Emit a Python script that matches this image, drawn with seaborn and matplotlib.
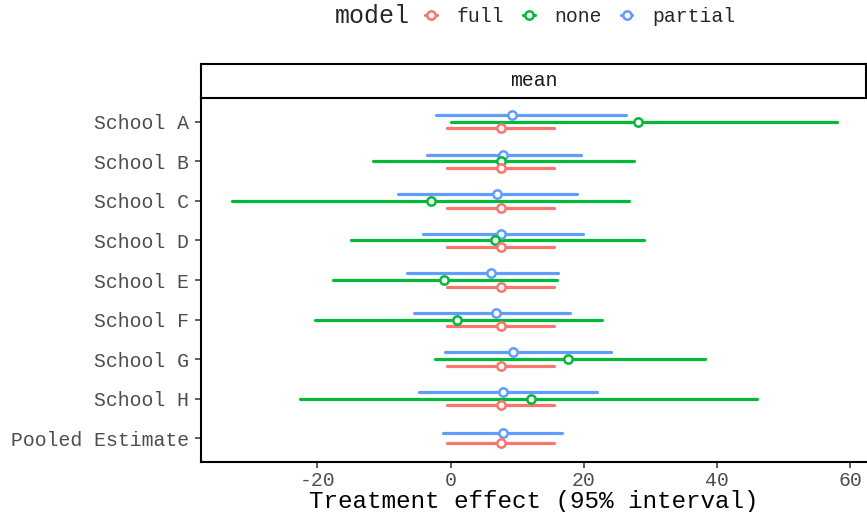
"""
Forest plot of treatment effects for the eight schools, three pooling models.
"""

import matplotlib
matplotlib.use("Agg")
import matplotlib.pyplot as plt
from matplotlib.lines import Line2D
import pandas as pd
import seaborn as sns

schools = ["School A", "School B", "School C", "School D", "School E",
           "School F", "School G", "School H", "Pooled Estimate"]
models = ["full", "none", "partial"]
colors = {"full": "#F8766D", "none": "#00BA38", "partial": "#619CFF"}
x_ticks = [-20, 0, 20, 40, 60]

# estimates and 95% interval ends (one value per school)
full_lo = [-0.5, -0.5, -0.5, -0.5, -0.5, -0.5, -0.5, -0.5, -0.5]
full_est = [7.6, 7.6, 7.6, 7.6, 7.6, 7.6, 7.6, 7.6, 7.6]
full_hi = [15.6, 15.6, 15.6, 15.6, 15.6, 15.6, 15.6, 15.6, 15.6]

none_lo = [0.0, -11.6, -32.9, -14.9, -17.6, -20.3, -2.4, -22.7]
none_est = [28.1, 7.6, -3.0, 6.7, -1.0, 0.9, 17.6, 12.0]
none_hi = [58.0, 27.5, 26.8, 29.1, 16.0, 22.7, 38.2, 46.0]

partial_lo = [-2.2, -3.6, -7.9, -4.1, -6.6, -5.5, -0.8, -4.8, -1.1]
partial_est = [9.2, 7.8, 6.9, 7.6, 6.1, 6.8, 9.3, 7.9, 7.9]
partial_hi = [26.3, 19.6, 19.0, 19.9, 16.2, 17.9, 24.1, 22.0, 16.8]


def long_rows(model, lo, est, hi):
    rows = []
    for school, a, b, c in zip(schools, lo, est, hi):
        for v in (a, b, c):
            rows.append({"school": school, "model": model, "value": v})
    return rows


df = pd.DataFrame(
    long_rows("full", full_lo, full_est, full_hi)
    + long_rows("none", none_lo, none_est, none_hi)
    + long_rows("partial", partial_lo, partial_est, partial_hi)
)


def interval(v):
    # each group holds (lo, est, hi): the range is the interval itself
    return v.min(), v.max()


sns.set_style("white")
plt.rcParams["font.family"] = ["Liberation Mono", "DejaVu Sans Mono"]
plt.rcParams["axes.unicode_minus"] = False

W, H = 867, 512
fig = plt.figure(figsize=(W / 100, H / 100), dpi=100)
left, right, bottom, top = 201 / W, 866 / W, 1 - 462 / H, 1 - 98 / H
ax = fig.add_axes([left, bottom, right - left, top - bottom])

MS, MEW, LW = 6.0, 1.8, 2.3
point_kws = dict(
    x="value", y="school", hue="model", order=schools, palette=colors,
    estimator="median", errorbar=interval, linestyle="none", markers="o",
    markersize=MS, markeredgewidth=MEW, markerfacecolor="white",
    err_kws={"linewidth": LW, "linestyle": "-"}, legend=False, ax=ax,
)
is_pooled = df["school"] == "Pooled Estimate"
sns.pointplot(data=df[~is_pooled], hue_order=["partial", "none", "full"],
              dodge=0.34, **point_kws)
sns.pointplot(data=df[is_pooled], hue_order=["partial", "full"],
              dodge=0.25, **point_kws)

for line in ax.lines:
    if line.get_marker() == "o":
        line.set_zorder(4)

ax.set_ylim(len(schools) - 1 + 0.6, -0.6)
ax.set_xlim(-37.5, 62.4)
ax.set_xticks(x_ticks)
ax.set_ylabel("")
ax.set_xlabel("Treatment effect (95% interval)", fontsize=17.5, color="black",
              labelpad=0)
ax.tick_params(axis="both", length=4.3, width=1.1, color="#333333",
               labelsize=14.2, labelcolor="#4D4D4D")
ax.tick_params(axis="y", left=True, pad=4)
ax.tick_params(axis="x", bottom=True, pad=2)
for side in ("top", "right"):
    ax.spines[side].set_visible(False)
for side in ("left", "bottom"):
    ax.spines[side].set_color("black")
    ax.spines[side].set_linewidth(1.5)

# facet strip
sax = fig.add_axes([left, top, right - left, 34 / H])
sax.set_xticks([])
sax.set_yticks([])
sax.set_facecolor("white")
for sp in sax.spines.values():
    sp.set_color("black")
    sp.set_linewidth(1.5)
sax.text(0.5, 0.5, "mean", ha="center", va="center", fontsize=14.2,
         color="#1A1A1A", transform=sax.transAxes)

# legend on top
fig.text(335 / W, 1 - 16 / H, "model", fontsize=18, ha="left", va="center")
handles = [Line2D([0], [0], color=colors[m], lw=LW, marker="o", ms=MS,
                  mew=MEW, mfc="white") for m in models]
fig.legend(handles, models, loc="center left", bbox_to_anchor=(425 / W, 1 - 16 / H),
           ncol=3, frameon=False, fontsize=14.2, handlelength=0.6,
           handletextpad=1.0, columnspacing=0.95, borderpad=0, borderaxespad=0)

fig.savefig("out.png", dpi=100)
